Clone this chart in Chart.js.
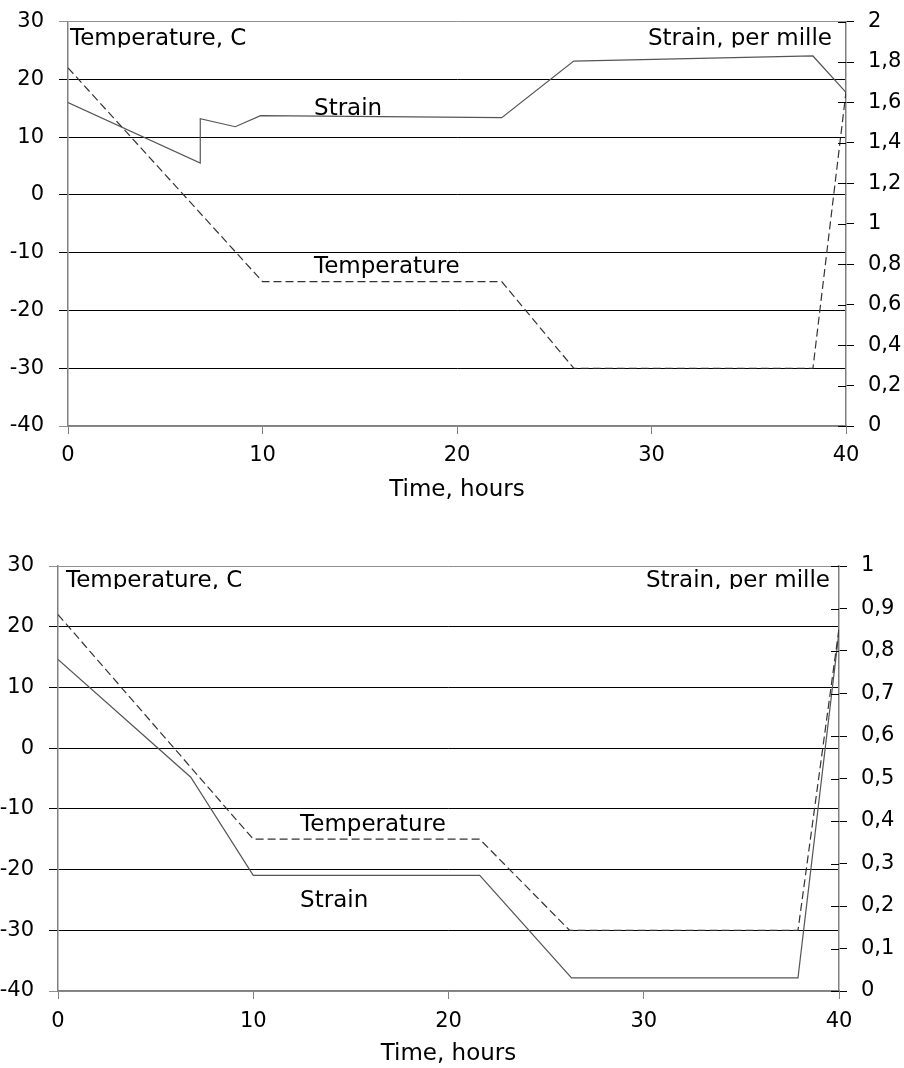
<!DOCTYPE html>
<html>
<head>
<meta charset="utf-8">
<title>Temperature and strain</title>
<script src="https://cdn.jsdelivr.net/npm/chart.js@4.4.1/dist/chart.umd.min.js"></script>
<style>
    html, body { margin: 0; padding: 0; background: #fff; overflow: hidden; }
    .chart-box { position: absolute; left: 0; width: 904px; }
    /* the y tick padding pushes the plot 27px down, so the top canvas starts a bit above the page */
    #topBox { top: -6px; height: 521px; }
    #bottomBox { top: 530px; height: 538px; }
    canvas { display: block; }
</style>
</head>
<body>
<div class="chart-box" id="topBox"><canvas id="topChart" width="904" height="521"></canvas></div>
<div class="chart-box" id="bottomBox"><canvas id="bottomChart" width="904" height="538"></canvas></div>
<script>
// Top chart: temperature (dashed, left axis) and strain (solid, right axis)
const topTempHours = [0, 10, 22.3, 26, 38.3, 40];
const topTemp = [22, -15, -15, -30, -30, 17.8];
const topStrainHours = [0, 6.8, 6.8, 8.6, 9.9, 22.3, 26, 38.3, 40];
const topStrain = [1.6, 1.3, 1.52, 1.48, 1.535, 1.525, 1.805, 1.83, 1.65];

// Bottom chart
const bottomTempHours = [0, 10, 21.6, 26.2, 37.9, 40];
const bottomTemp = [22, -15, -15, -30, -30, 19.7];
const bottomStrainHours = [0, 6.8, 10, 21.6, 26.3, 37.9, 40];
const bottomStrain = [0.78, 0.503, 0.272, 0.272, 0.031, 0.031, 0.845];

// Tick values
const timeTicks = [0, 10, 20, 30, 40];
const tempTicks = [-40, -30, -20, -10, 0, 10, 20, 30];
const topStrainTicks = [0, 0.2, 0.4, 0.6, 0.8, 1, 1.2, 1.4, 1.6, 1.8, 2];
const bottomStrainTicks = [0, 0.1, 0.2, 0.3, 0.4, 0.5, 0.6, 0.7, 0.8, 0.9, 1];

const tickFont = { family: 'DejaVu Sans', size: 21 };
const labelFont = { family: 'DejaVu Sans', size: 23 };

// Inward ticks on the strain axis + text labels inside the plot
const plotText = {
    id: 'plotText',
    afterDraw(chart, args, opts) {
        const { ctx, chartArea, scales } = chart;
        ctx.save();

        ctx.strokeStyle = '#000';
        ctx.lineWidth = 1;
        scales.y1.ticks.forEach(t => {
            const py = Math.round(scales.y1.getPixelForValue(t.value)) + 0.5;
            ctx.beginPath();
            ctx.moveTo(chartArea.right - 8, py);
            ctx.lineTo(chartArea.right, py);
            ctx.stroke();
        });

        ctx.fillStyle = '#000';
        ctx.font = '23px "DejaVu Sans"';
        ctx.textBaseline = 'alphabetic';

        // axis names, cut off at the bottom like in the original
        ctx.save();
        ctx.beginPath();
        ctx.rect(chartArea.left, chartArea.top, chartArea.width, opts.clipHeight);
        ctx.clip();
        ctx.textAlign = 'left';
        ctx.fillText('Temperature, C', chartArea.left + opts.leftInset, chartArea.top + opts.baseline);
        ctx.textAlign = 'right';
        ctx.fillText('Strain, per mille', chartArea.right - opts.rightInset, chartArea.top + opts.baseline);
        ctx.restore();

        ctx.textAlign = 'left';
        opts.labels.forEach(l => {
            ctx.fillText(l.text, scales.x.getPixelForValue(l.x), scales.y.getPixelForValue(l.y));
        });
        ctx.restore();
    }
};

function points(hours, values) {
    return hours.map((h, i) => ({ x: h, y: values[i] }));
}

function commaLabel(v) {
    return String(v).replace('.', ',');
}

function makeChart(canvasId, cfg) {
    const ctx = document.getElementById(canvasId).getContext('2d');
    return new Chart(ctx, {
        type: 'line',
        data: {
            datasets: [{
                label: 'Temperature',
                data: points(cfg.tempHours, cfg.temp),
                yAxisID: 'y',
                borderColor: '#333',
                borderWidth: 1.2,
                borderDash: [8, 4],
                pointRadius: 0,
                fill: false,
                tension: 0
            }, {
                label: 'Strain',
                data: points(cfg.strainHours, cfg.strain),
                yAxisID: 'y1',
                borderColor: '#555',
                borderWidth: 1.2,
                pointRadius: 0,
                fill: false,
                tension: 0
            }]
        },
        options: {
            responsive: false,
            animation: false,
            layout: { padding: { top: cfg.padTop, left: 0, right: 0, bottom: 0 } },
            plugins: {
                legend: { display: false },
                tooltip: { enabled: false },
                plotText: cfg.text
            },
            scales: {
                x: {
                    type: 'linear',
                    min: 0,
                    max: 40,
                    afterBuildTicks: a => { a.ticks = timeTicks.map(v => ({ value: v })); },
                    afterFit: a => { a.height = cfg.xHeight; },
                    grid: { drawOnChartArea: false, tickLength: 8, color: '#808080' },
                    border: { color: '#808080', width: 1.5 },
                    ticks: { color: '#000', font: tickFont, padding: cfg.xTickPad, maxRotation: 0 },
                    title: {
                        display: true,
                        text: 'Time, hours',
                        color: '#000',
                        font: labelFont,
                        padding: { top: 0, bottom: cfg.titlePad }
                    }
                },
                y: {
                    position: 'left',
                    min: -40,
                    max: 30,
                    afterBuildTicks: a => { a.ticks = tempTicks.map(v => ({ value: v })); },
                    afterFit: a => { a.width = cfg.leftWidth; },
                    grid: {
                        color: c => (c.tick && (c.tick.value === 30 || c.tick.value === -40)) ? '#909090' : '#000',
                        tickLength: 9,
                        lineWidth: 1
                    },
                    border: { color: '#808080', width: 1.5 },
                    ticks: { color: '#000', font: tickFont, padding: 15 }
                },
                y1: {
                    position: 'right',
                    min: 0,
                    max: cfg.strainMax,
                    afterBuildTicks: a => { a.ticks = cfg.strainTicks.map(v => ({ value: v })); },
                    afterFit: a => { a.width = cfg.rightWidth; },
                    grid: { drawOnChartArea: false, tickLength: 8, color: '#000' },
                    border: { color: '#808080', width: 1.5 },
                    ticks: { color: '#000', font: tickFont, padding: 14, callback: commaLabel }
                }
            }
        },
        plugins: [plotText]
    });
}

document.addEventListener('DOMContentLoaded', function() {
    makeChart('topChart', {
        tempHours: topTempHours, temp: topTemp,
        strainHours: topStrainHours, strain: topStrain,
        strainMax: 2, strainTicks: topStrainTicks,
        padTop: 27, xHeight: 89, leftWidth: 68, rightWidth: 58, titlePad: 11, xTickPad: 9,
        text: {
            leftInset: 2, rightInset: 14, baseline: 23, clipHeight: 26,
            labels: [
                { text: 'Strain', x: 12.65, y: 13.9 },
                { text: 'Temperature', x: 12.65, y: -13.6 }
            ]
        }
    });

    makeChart('bottomChart', {
        tempHours: bottomTempHours, temp: bottomTemp,
        strainHours: bottomStrainHours, strain: bottomStrain,
        strainMax: 1, strainTicks: bottomStrainTicks,
        padTop: 36, xHeight: 77, leftWidth: 58, rightWidth: 65, titlePad: 0, xTickPad: 10,
        text: {
            leftInset: 8, rightInset: 9, baseline: 21, clipHeight: 23,
            labels: [
                { text: 'Temperature', x: 12.4, y: -13.6 },
                { text: 'Strain', x: 12.4, y: -26.1 }
            ]
        }
    });
});
</script>
</body>
</html>
